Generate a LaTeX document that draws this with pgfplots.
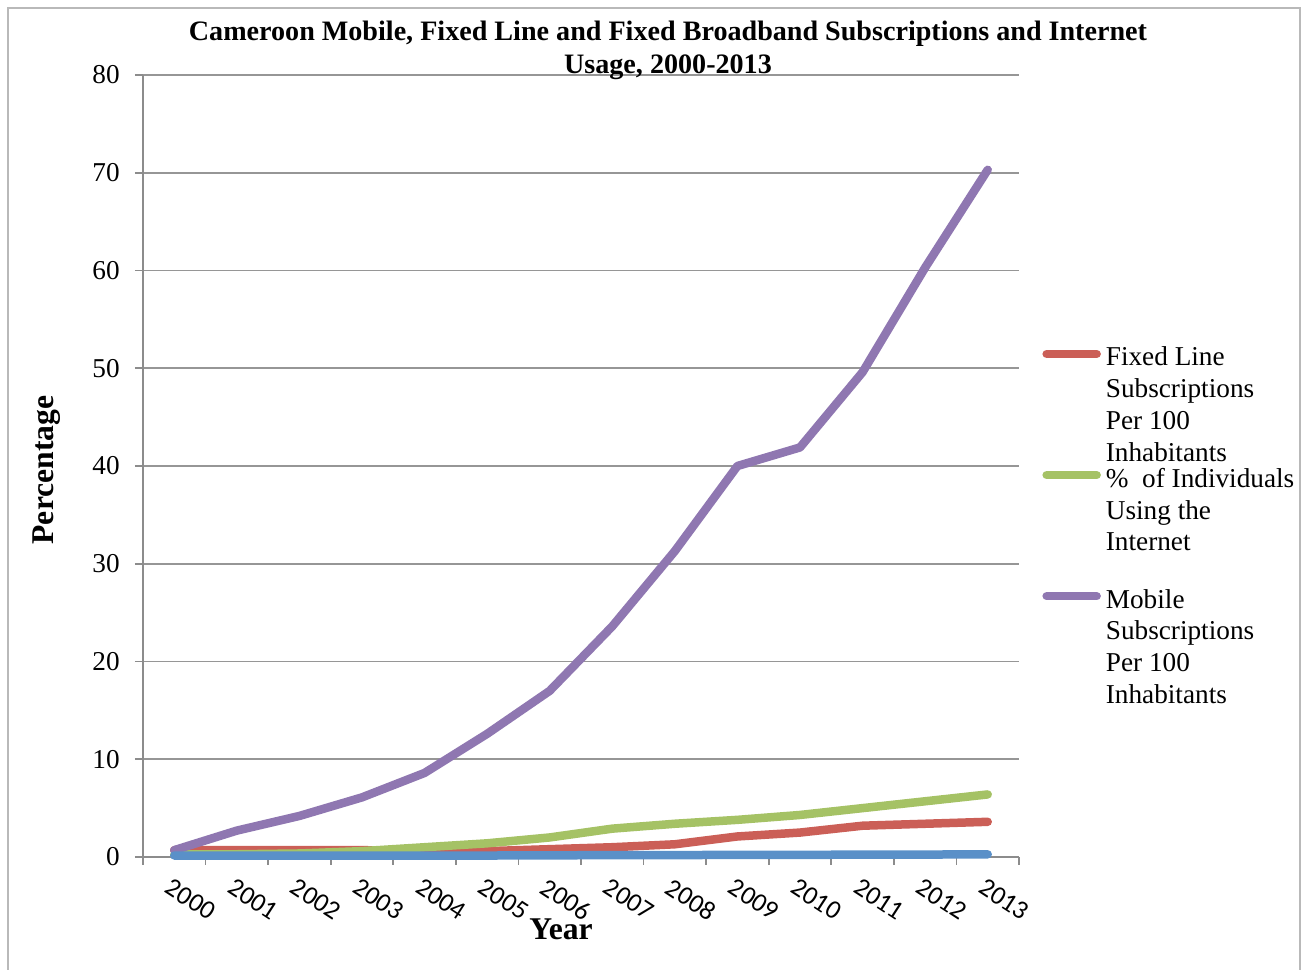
\documentclass[border=0pt]{standalone}
\usepackage{fontspec}
\setmainfont{Liberation Serif}
\newfontfamily\calib{Carlito}
\usepackage{pgfplots}
\pgfplotsset{compat=1.18}

\definecolor{fixedred}{RGB}{203,95,87}
\definecolor{netgreen}{RGB}{165,194,101}
\definecolor{mobpurple}{RGB}{143,119,177}
\definecolor{bbblue}{RGB}{90,144,200}
\definecolor{axisgray}{RGB}{140,140,140}
\definecolor{gridgray}{RGB}{150,150,150}
\definecolor{framegray}{RGB}{185,185,185}

\begin{document}
\begin{tikzpicture}
\useasboundingbox (0,0) rectangle (26.18,19.40);
% outer chart frame (bottom edge runs off the picture)
\draw[framegray, line width=0.04cm] (0.16,0) -- (0.16,19.24) -- (26.0,19.24) -- (26.0,0);
\begin{axis}[
  at={(2.86cm,2.26cm)}, anchor=south west,
  scale only axis, width=17.52cm, height=15.64cm,
  xmin=-0.5, xmax=13.5, ymin=0, ymax=80,
  clip=false,
  axis x line*=bottom, axis y line*=left,
  axis line style={draw=axisgray, line width=0.034cm, -},
  tick align=outside, major tick length=0.16cm,
  tick style={draw=axisgray, line width=0.034cm},
  xtick={-0.5,0.5,...,13.5},
  xticklabels={2000,2001,2002,2003,2004,2005,2006,2007,2008,2009,2010,2011,2012,2013,{}},
  xticklabel style={font=\calib\fontsize{15}{17}\selectfont, inner sep=0pt,
    xshift=0.60cm, yshift=-0.24cm, rotate=-33, anchor=north west},
  ytick={0,10,...,80},
  yticklabel style={font=\fontsize{15.5}{18}\selectfont, inner sep=0pt, anchor=east, xshift=-0.3cm},
  /pgf/number format/assume math mode=true,
  ymajorgrids, grid style={draw=gridgray, line width=0.034cm},
  title={Cameroon Mobile, Fixed Line and Fixed Broadband Subscriptions and Internet\\Usage, 2000-2013},
  title style={at={(axis description cs:0.5993,1.056)}, anchor=north, align=center, inner sep=0pt,
    font=\bfseries\fontsize{16}{18.5}\selectfont},
  xlabel={Year},
  xlabel style={at={(axis description cs:0.4772,-0.1061)}, anchor=base, inner sep=0pt,
    font=\bfseries\fontsize{18}{20}\selectfont},
  ylabel={Percentage},
  ylabel style={at={(axis description cs:-0.1096,0.4949)}, anchor=center, inner sep=0pt,
    font=\bfseries\fontsize{18}{20}\selectfont},
  legend cell align=left,
  legend style={at={(axis description cs:1.0263,0.6528)}, anchor=north west,
    draw=none, fill=none, inner sep=0pt, row sep=0.07cm, column sep=0.1cm,
    font=\fontsize{15.5}{18.2}\selectfont,
    nodes={inner sep=0pt, align=left}},
  % legend line sits beside the first text line of each entry
  legend image code/.code={\draw[#1] (0cm,1.033cm) -- (1.0cm,1.033cm);},
]
% Fixed line subscriptions per 100 inhabitants
\addplot[draw=fixedred, line width=0.17cm, line cap=round, line join=round]
  coordinates {
  (0,0.7) (1,0.7) (2,0.7) (3,0.7) (4,0.6) (5,0.6) (6,0.8)
  (7,1.0) (8,1.3) (9,2.1) (10,2.5) (11,3.2) (12,3.4) (13,3.6)
};
% Individuals using the internet (%)
\addplot[draw=netgreen, line width=0.17cm, line cap=round, line join=round]
  coordinates {
  (0,0.25) (1,0.28) (2,0.36) (3,0.6) (4,1.0) (5,1.4) (6,2.0)
  (7,2.9) (8,3.4) (9,3.8) (10,4.3) (11,5.0) (12,5.7) (13,6.4)
};
% Mobile subscriptions per 100 inhabitants
\addplot[draw=mobpurple, line width=0.17cm, line cap=round, line join=round]
  coordinates {
  (0,0.7) (1,2.7) (2,4.2) (3,6.1) (4,8.6) (5,12.6) (6,17.0)
  (7,23.6) (8,31.3) (9,40.0) (10,41.9) (11,49.6) (12,60.3) (13,70.3)
};
% Fixed broadband subscriptions (no legend entry in the original)
\addplot[draw=bbblue, line width=0.17cm, line cap=round, line join=round]
  coordinates {
  (0,0.15) (1,0.15) (2,0.15) (3,0.15) (4,0.15) (5,0.15) (6,0.17)
  (7,0.19) (8,0.2) (9,0.21) (10,0.22) (11,0.24) (12,0.25) (13,0.27)
};
\legend{{Fixed Line\\Subscriptions\\Per 100\\Inhabitants},
  {\%\ \ of Individuals\\Using the\\Internet\\\mbox{}},
  {Mobile\\Subscriptions\\Per 100\\Inhabitants}}
\end{axis}
\end{tikzpicture}
\end{document}
